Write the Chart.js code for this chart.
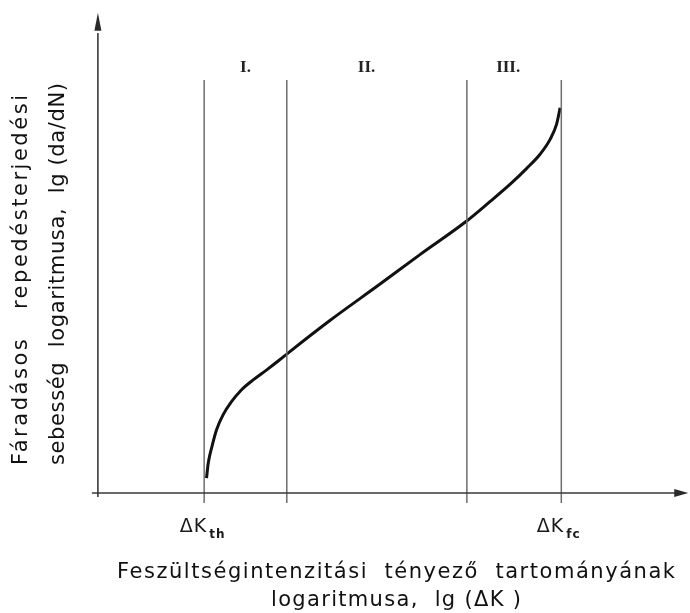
<!DOCTYPE html>
<html>
<head>
<meta charset="utf-8">
<script src="https://cdn.jsdelivr.net/npm/chart.js@4"></script>
<style>
  body { margin: 0; background: #fff; }
  canvas { display: block; }
</style>
</head>
<body>
<canvas id="grafico" width="690" height="613"></canvas>
<script>
// Görbe pontjai (lg ΔK, lg da/dN) - tetszőleges egységek
const curveX = [1.84, 1.87, 1.93, 2.01, 2.12, 2.26, 2.43, 2.63, 2.86, 3.08, 3.22, 3.93, 4.78, 5.45, 6.23, 6.64, 6.98, 7.26, 7.49, 7.66, 7.77, 7.83];
const curveY = [0.31, 0.63, 0.96, 1.32, 1.63, 1.90, 2.15, 2.36, 2.57, 2.78, 2.92, 3.60, 4.36, 4.97, 5.66, 6.08, 6.44, 6.77, 7.07, 7.38, 7.70, 8.04];

// tartományhatárok (függőleges vonalak)
const boundX = [1.8, 3.2, 6.25, 7.85];
const boundYRange = [-0.21, 8.62];

// tartományok jelölése
const regionLabels = ['I.', 'II.', 'III.'];
const regionLabelX = [2.5, 4.55, 6.95];
const regionLabelY = 9.0;

// tengelyfeliratok
const xTickPos = [1.8, 7.85];
const xTickMain = ['\u0394K', '\u0394K'];
const xTickSub = ['th', 'fc'];
const xTitle = ['Feszültségintenzitási  tényező  tartományának', 'logaritmusa,  lg (\u0394K )'];
const yTitle = ['Fáradásos   repedésterjedési', 'sebesség  logaritmusa,  lg (da/dN)'];

const SANS = '"DejaVu Sans", sans-serif';

function spacedText(c, text, x, y, target, align) {
  c.letterSpacing = '0px';
  const w = c.measureText(text).width;
  const n = text.length;
  const sp = (target - w) / (n - 1);
  c.letterSpacing = sp + 'px';
  const real = w + sp * (n - 1);
  let x0 = x;
  if (align === 'center') x0 = x - real / 2;
  c.textAlign = 'left';
  c.fillText(text, x0, y);
  c.letterSpacing = '0px';
}

const rajz = {
  id: 'rajz',
  afterDatasetsDraw(chart) {
    const c = chart.ctx;
    const xs = chart.scales.x, ys = chart.scales.y;
    const x0 = xs.getPixelForValue(0), y0 = ys.getPixelForValue(0);
    c.save();
    // tengelyek
    c.strokeStyle = '#3a3a3a';
    c.fillStyle = '#2a2a2a';
    c.lineWidth = 1.6;
    c.beginPath();
    c.moveTo(x0, y0 + 4);
    c.lineTo(x0, ys.getPixelForValue(9.6));
    c.moveTo(x0 - 6, y0);
    c.lineTo(xs.getPixelForValue(9.8), y0);
    c.stroke();
    // nyilak
    const yt = ys.getPixelForValue(10), xt = xs.getPixelForValue(10);
    c.beginPath();
    c.moveTo(x0, yt - 1);
    c.lineTo(x0 - 3.5, yt + 17);
    c.lineTo(x0 + 3.5, yt + 17);
    c.closePath();
    c.fill();
    c.beginPath();
    c.moveTo(xt, y0);
    c.lineTo(xt - 14, y0 - 4);
    c.lineTo(xt - 14, y0 + 4);
    c.closePath();
    c.fill();

    // római számok
    c.fillStyle = '#222';
    c.font = 'bold 17px "Liberation Serif", serif';
    c.textAlign = 'center';
    c.textBaseline = 'alphabetic';
    regionLabels.forEach((t, i) => {
      c.fillText(t, xs.getPixelForValue(regionLabelX[i]), ys.getPixelForValue(regionLabelY) + 10);
    });

    // ΔK feliratok
    c.fillStyle = '#1a1a1a';
    xTickPos.forEach((v, i) => {
      const px = xs.getPixelForValue(v);
      c.font = '19px ' + SANS;
      c.letterSpacing = '1px';
      c.textAlign = 'right';
      c.fillText(xTickMain[i], px + 3, y0 + 39);
      c.font = 'bold 12px ' + SANS;
      c.textAlign = 'left';
      c.fillText(xTickSub[i], px + 5, y0 + 45);
      c.letterSpacing = '0px';
    });

    // x tengely címe
    c.fillStyle = '#111';
    c.font = '21px ' + SANS;
    spacedText(c, xTitle[0], 396, 578, 558, 'center');
    spacedText(c, xTitle[1], 396, 606, 250, 'center');

    // y tengely címe
    c.save();
    c.translate(27, 465);
    c.rotate(-Math.PI / 2);
    spacedText(c, yTitle[0], 0, 0, 370, 'left');
    c.restore();
    c.save();
    c.translate(64, 465);
    c.rotate(-Math.PI / 2);
    spacedText(c, yTitle[1], 0, 0, 382, 'left');
    c.restore();

    c.restore();
  }
};

const hatarok = boundX.map(b => ({
  data: boundYRange.map(y => ({ x: b, y: y })),
  showLine: true,
  borderColor: '#6e6e6e',
  borderWidth: 1.5,
  pointRadius: 0
}));

const ctx = document.getElementById('grafico').getContext('2d');
const chart = new Chart(ctx, {
  type: 'scatter',
  data: {
    datasets: [
      ...hatarok,
      {
        data: curveX.map((x, i) => ({ x: x, y: curveY[i] })),
        showLine: true,
        borderColor: '#111',
        borderWidth: 3,
        pointRadius: 0,
        cubicInterpolationMode: 'monotone'
      }
    ]
  },
  options: {
    responsive: false,
    animation: false,
    layout: { padding: { left: 92, right: 0, top: 10, bottom: 103 } },
    plugins: {
      legend: { display: false },
      tooltip: { enabled: false }
    },
    scales: {
      x: { type: 'linear', min: -0.1, max: 10.03, display: false },
      y: { type: 'linear', min: -0.355, max: 10.08, display: false }
    }
  },
  plugins: [rajz]
});
</script>
</body>
</html>
